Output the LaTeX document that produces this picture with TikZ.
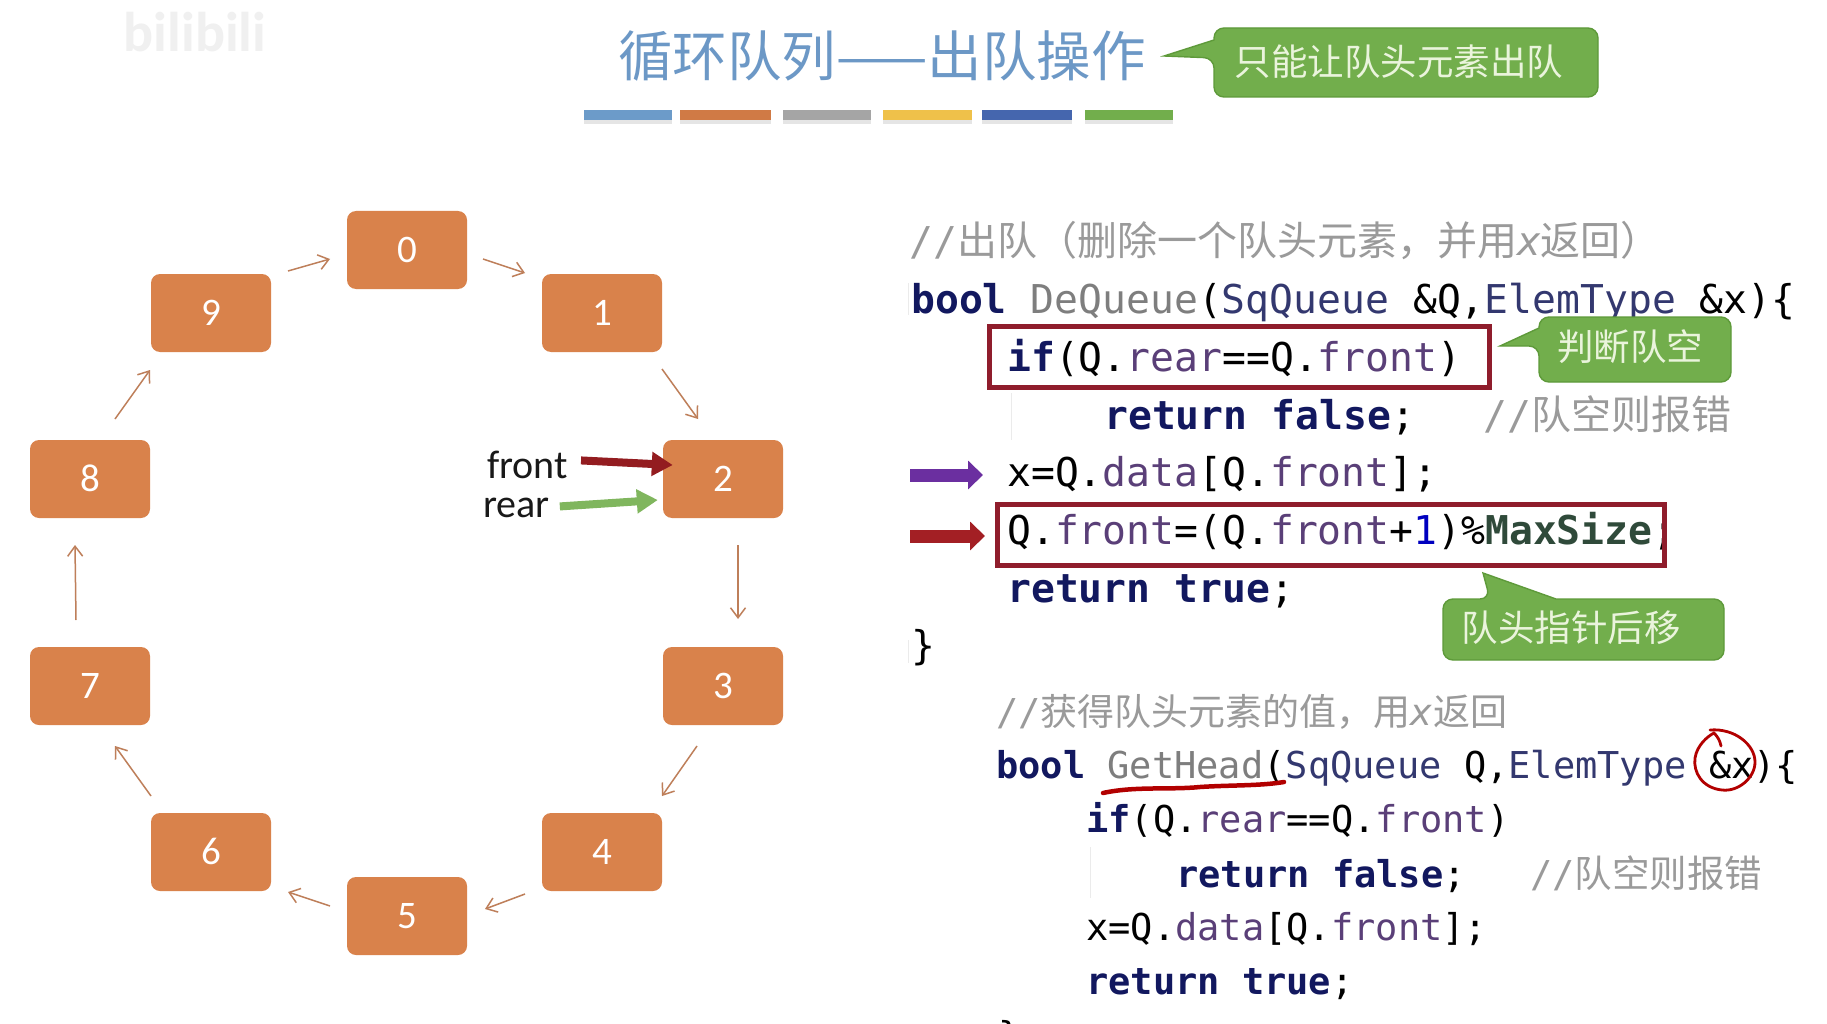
\documentclass[tikz,border=0pt]{standalone}
\usepackage{fontspec}
\usetikzlibrary{arrows.meta}
\setmainfont{Carlito}
\newfontfamily\cjk{Noto Sans CJK SC}
\newfontfamily\codefont{DejaVu Sans Mono}
\definecolor{boxfill}{HTML}{D9824B}
\definecolor{linkcol}{HTML}{BE7F5A}
\definecolor{titlecol}{HTML}{6C98C6}
\definecolor{callfill}{HTML}{72AE4C}
\definecolor{calledge}{HTML}{5E9A3A}
\definecolor{calltext}{HTML}{EAF4DC}
\definecolor{boxred}{HTML}{8F1D2C}
\definecolor{kwc}{HTML}{12185F}
\definecolor{fldc}{HTML}{5A3F78}
\definecolor{typec}{HTML}{33386F}
\definecolor{graycom}{HTML}{9A9A9A}
\definecolor{fnc}{HTML}{7E7E7E}
\definecolor{grnc}{HTML}{2F4A3A}
\definecolor{purplearrow}{HTML}{6B2FA0}
\definecolor{redarrow}{HTML}{A31F24}
\newcommand{\kw}[1]{\textcolor{kwc}{\bfseries #1}}
\newcommand{\fld}[1]{\textcolor{fldc}{#1}}
\newcommand{\typ}[1]{\textcolor{typec}{#1}}
\newcommand{\fn}[1]{\textcolor{fnc}{#1}}
\newcommand{\cmt}[1]{\textcolor{graycom}{#1}}
\tikzset{
  elem/.style={draw=none,fill=boxfill,rounded corners=9pt,minimum width=120pt,minimum height=78pt,inner sep=0pt,
    text=white,font=\fontsize{39}{39}\selectfont},
  link/.style={draw=linkcol,line width=1.5pt,-{Straight Barb[length=10pt,width=15pt]}},
  barbox/.style={draw=none,minimum height=10pt,inner sep=0pt},
  callshape/.style={fill=callfill,draw=calledge,line width=1.4pt},
  calltxt/.style={inner sep=0pt,text=calltext,font=\cjk\fontsize{36.5}{37}\selectfont},
  codeA/.style={anchor=base west,inner sep=0pt,font=\codefont\fontsize{39.7}{40}\selectfont},
  codeB/.style={anchor=base west,inner sep=0pt,font=\codefont\fontsize{37}{38}\selectfont},
  redbox/.style={draw=boxred,line width=5pt,fill=none,inner sep=0pt},
  ptr/.style={line width=8pt,-{Triangle[length=21pt,width=23pt]}},
  bigptr/.style={line width=13pt,-{Triangle[length=15pt,width=28pt]}},
  lbl/.style={anchor=base west,inner sep=0pt,text=black!90,font=\fontsize{40}{40}\selectfont},
  guide/.style={draw=black!8,line width=1pt},
  ink/.style={draw=red!70!black,line cap=round,line join=round},
}
\begin{document}
\begin{tikzpicture}[x=1pt,y=-1pt]
\useasboundingbox (0,0) rectangle (1827,1024);
\clip (0,0) rectangle (1827,1024);
\fill[white] (0,0) rectangle (1827,1024);

% faint watermark
\node[inner sep=0pt,text=black!6,font=\bfseries\fontsize{56}{56}\selectfont] (wm) at (195,32) {bilibili};

% title and bars
\node[inner sep=0pt,text=titlecol,font=\cjk\fontsize{54.5}{55}\selectfont] (title) at (882,56) {循环队列——出队操作};
\foreach \nm/\xa/\xb/\col in {b1/584/672/6C9BC9,b2/680/771/D07A45,b3/783/871/A5A5A5,b4/883/972/EFC14A,b5/982/1072/4566AE,b6/1085/1173/72AE4C}{
  \fill[black!10] (\xa,120) rectangle (\xb,124);
  \definecolor{tmpc}{HTML}{\col}
  \node[barbox,fill=tmpc,anchor=north west,minimum width={\xb-\xa}] (\nm) at (\xa,110) {};
}

% top callout
\draw[callshape] (1164,56) -- (1214,40) [rounded corners=10pt] -- (1214,28) -- (1598,28) -- (1598,97) -- (1214,97) -- (1214,58) [sharp corners] -- cycle;
\node[calltxt] (c1) at (1399,62) {只能让队头元素出队};

% ring of elements
\foreach \i/\x/\y in {0/407/250,1/602/313,2/723/479,3/723/686,4/602/852,5/407/916,6/211/852,7/90/686,8/90/479,9/211/313}{
  \node[elem] (n\i) at (\x,\y) {\raisebox{1pt}{\i}};
}
\foreach \a/\b/\ax/\ay/\bx/\by in {
  0/1/76/9/-77/-40, 1/2/60/56/-25/-60, 2/3/15/66/15/-67, 3/4/-26/60/60/-56, 4/5/-77/42/78/-7,
  5/6/-77/-10/77/40, 6/7/-60/-56/25/60, 7/8/-14/-66/-15/66, 8/9/25/-60/-61/57, 9/0/77/-42/-77/9}{
  \draw[link] ([shift={(\ax,\ay)}]n\a.center) -- ([shift={(\bx,\by)}]n\b.center);
}

% front / rear
\node[lbl] (front) at (487,478) {front};
\node[lbl] (rear) at (483,517) {rear};
\draw[ptr,color=redarrow!90!black] ([shift={(13,-4)}]front.east) -- ([shift={(10,-14)}]n2.west);
\draw[ptr,color=callfill!90!white] ([shift={(10,-1)}]rear.east) -- ([shift={(-5,21)}]n2.west);

% code block 1
\node[codeA] (l0) at (909,255) {\cmt{//{\cjk\fontsize{40}{40}\selectfont 出队（删除一个队头元素，并用}{\itshape x}{\cjk\fontsize{40}{40}\selectfont 返回）}}};
\node[codeA] (l1) at (911,313) {\kw{bool} \fn{DeQueue}(\typ{SqQueue} \&Q,\typ{ElemType} \&x)\{};
\node[codeA] (l2) at (1007,371) {\kw{if}(Q.\fld{rear}==Q.\fld{front})};
\node[codeA] (l3) at (1104,429) {\kw{return} \kw{false};};
\node[codeA] (l3c) at (1483,429) {\cmt{//{\cjk\fontsize{40}{40}\selectfont 队空则报错}}};
\node[codeA] (l4) at (1007,486) {x=Q.\fld{data}[Q.\fld{front}];};
\node[codeA] (l5) at (1007,544) {Q.\fld{front}=(Q.\fld{front}+\textcolor{blue!75!black}{1})\%\textcolor{grnc}{\bfseries MaxSize};};
\node[codeA] (l6) at (1007,602) {\kw{return} \kw{true};};
\node[codeA] (l7) at (911,659) {\}};

% guides
\draw[guide] (1011,393) -- (1011,440);
\draw[guide] (908,283) -- (908,315);
\draw[guide] (908,640) -- (908,663);
\draw[guide] (1090,847) -- (1090,898);

% red boxes
\node[redbox,anchor=north west,minimum width=500pt,minimum height=61pt] (r1) at (987,324) {};
\node[redbox,anchor=north west,minimum width=667pt,minimum height=61pt] (r2) at (995,502) {};

% big arrows
\coordinate (pa) at (910,475);
\coordinate (pb) at (910,536);
\draw[bigptr,color=purplearrow] (pa) -- ([xshift=-24pt]l4.west |- pa);
\draw[bigptr,color=redarrow] (pb) -- ([xshift=-10pt]r2.west |- pb);

% code callouts
\draw[callshape] (1500,346) -- (1539,328) [rounded corners=10pt] -- (1539,317) -- (1731,317) -- (1731,382) -- (1539,382) -- (1539,346) [sharp corners] -- cycle;
\node[calltxt] (c2) at (1630,347) {判断队空};
\draw[callshape] (1483,573) -- (1556,599) [rounded corners=10pt] -- (1724,599) -- (1724,660) -- (1443,660) -- (1443,599) -- (1490,599) [sharp corners] -- cycle;
\node[calltxt] (c3) at (1571,628) {队头指针后移};

% code block 2
\node[codeB] (m0) at (996,725) {\cmt{//{\cjk\fontsize{37}{38}\selectfont 获得队头元素的值，用}{\itshape x}{\cjk\fontsize{37}{38}\selectfont 返回}}};
\node[codeB] (m1) at (996,778) {\kw{bool} \fn{GetHead}(\typ{SqQueue} Q,\typ{ElemType} \&x)\{};
\node[codeB] (m2) at (1086,832) {\kw{if}(Q.\fld{rear}==Q.\fld{front})};
\node[codeB] (m3) at (1176,887) {\kw{return} \kw{false};};
\node[codeB] (m3c) at (1530,887) {\cmt{//{\cjk\fontsize{37.5}{38}\selectfont 队空则报错}}};
\node[codeB] (m4) at (1086,940) {x=Q.\fld{data}[Q.\fld{front}];};
\node[codeB] (m5) at (1086,994) {\kw{return} \kw{true};};
\node[codeB] (m6) at (998,1048) {\}};

% handwritten marks
\draw[ink,line width=4.5pt] (1103,793) .. controls (1135,786) and (1170,790) .. (1200,787) .. controls (1230,785) and (1260,786) .. (1284,782);
\draw[ink,line width=2.8pt] (1710,730) .. controls (1735,728) and (1755,745) .. (1755,762) .. controls (1755,778) and (1738,792) .. (1722,790) .. controls (1702,788) and (1693,772) .. (1695,758) .. controls (1697,745) and (1708,736) .. (1714,733) .. controls (1718,737) and (1720,741) .. (1721,746);
\end{tikzpicture}
\end{document}
